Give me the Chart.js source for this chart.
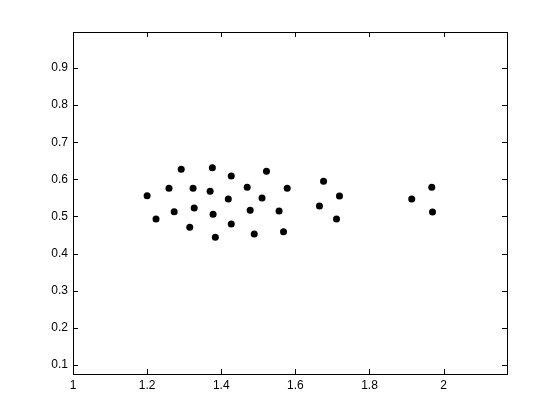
<!DOCTYPE html>
<html>
<head>
<meta charset="utf-8">
<script src="https://cdn.jsdelivr.net/npm/chart.js@4/dist/chart.umd.min.js"></script>
<style>
  html, body { margin: 0; padding: 0; background: #fff; }
  #wrap { width: 560px; height: 420px; }
</style>
</head>
<body>
<div id="wrap"><canvas id="scatterChart"></canvas></div>
<script>
const X_VALUES = [1.200, 1.224, 1.259, 1.273, 1.292, 1.315, 1.324, 1.327, 1.370, 1.376,
  1.378, 1.384, 1.419, 1.427, 1.427, 1.470, 1.478, 1.489, 1.510, 1.522,
  1.556, 1.568, 1.578, 1.676, 1.719, 1.665, 1.711, 1.914, 1.968, 1.970];
const Y_VALUES = [0.556, 0.493, 0.576, 0.513, 0.627, 0.471, 0.576, 0.523, 0.568, 0.631,
  0.506, 0.444, 0.547, 0.609, 0.480, 0.579, 0.517, 0.453, 0.550, 0.622,
  0.515, 0.459, 0.576, 0.595, 0.555, 0.528, 0.493, 0.547, 0.579, 0.512];
const X_TICKS = [1, 1.2, 1.4, 1.6, 1.8, 2];
const Y_TICKS = [0.1, 0.2, 0.3, 0.4, 0.5, 0.6, 0.7, 0.8, 0.9];

const points = X_VALUES.map((x, i) => ({x: x, y: Y_VALUES[i]}));

// matlab style box with inward ticks on all four sides
const boxTicks = {
  id: 'boxTicks',
  afterDraw(chart) {
    const c = chart.ctx;
    const a = chart.chartArea;
    const len = 5;
    c.save();
    c.strokeStyle = '#000';
    c.lineWidth = 1;
    c.strokeRect(Math.round(a.left) + 0.5, Math.round(a.top) + 0.5,
      Math.round(a.right - a.left), Math.round(a.bottom - a.top));
    c.beginPath();
    chart.scales.x.ticks.forEach(t => {
      const px = Math.round(chart.scales.x.getPixelForValue(t.value)) + 0.5;
      c.moveTo(px, a.bottom); c.lineTo(px, a.bottom - len);
      c.moveTo(px, a.top); c.lineTo(px, a.top + len);
    });
    chart.scales.y.ticks.forEach(t => {
      const py = Math.round(chart.scales.y.getPixelForValue(t.value)) + 0.5;
      c.moveTo(a.left, py); c.lineTo(a.left + len, py);
      c.moveTo(a.right, py); c.lineTo(a.right - len, py);
    });
    c.stroke();
    c.restore();
  }
};

const ctx = document.getElementById('scatterChart');
const scatterChart = new Chart(ctx, {
  type: 'scatter',
  data: {
    datasets: [{
      data: points,
      backgroundColor: '#000',
      borderWidth: 0,
      pointRadius: 3.5,
    }]
  },
  options: {
    responsive: true,
    maintainAspectRatio: false,
    animation: false,
    layout: {padding: {top: 32, right: 53, left: 0, bottom: 0}},
    plugins: {legend: {display: false}, tooltip: {enabled: false}},
    scales: {
      x: {
        type: 'linear',
        min: 1,
        max: 2.171,
        afterBuildTicks: (scale) => { scale.ticks = X_TICKS.map(v => ({value: v})) },
        afterFit: (scale) => { scale.height = 46 },
        grid: {display: false, drawTicks: false},
        border: {display: false},
        ticks: {
          padding: 4,
          color: '#000',
          font: {family: 'Liberation Sans', size: 12},
          callback: (v) => String(v),
        }
      },
      y: {
        type: 'linear',
        min: 0.0757,
        max: 0.997,
        afterBuildTicks: (scale) => { scale.ticks = Y_TICKS.map(v => ({value: v})) },
        afterFit: (scale) => { scale.width = 73 },
        grid: {display: false, drawTicks: false},
        border: {display: false},
        ticks: {
          padding: 5,
          color: '#000',
          font: {family: 'Liberation Sans', size: 12},
          callback: (v) => String(v),
        }
      }
    }
  },
  plugins: [boxTicks]
});
</script>
</body>
</html>
